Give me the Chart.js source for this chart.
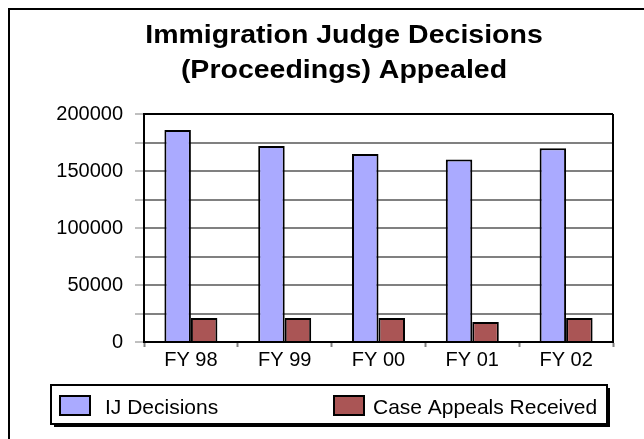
<!DOCTYPE html>
<html>
<head>
<meta charset="utf-8">
<script src="https://cdn.jsdelivr.net/npm/chart.js@4/dist/chart.umd.min.js"></script>
<style>
  html, body { margin: 0; padding: 0; background: #ffffff; }
  #wrap { position: relative; width: 644px; height: 439px; }
  canvas { display: block; }
</style>
</head>
<body>
<div id="wrap"><canvas id="c" width="644" height="439"></canvas></div>
<script>
const categories = ['FY 98', 'FY 99', 'FY 00', 'FY 01', 'FY 02'];
const ijDecisions = [186000, 172000, 165000, 160000, 170000];
const caseAppeals = [21000, 21000, 21000, 17500, 21000];
const yTickLabels = [0, 50000, 100000, 150000, 200000];
const seriesNames = ['IJ Decisions', 'Case Appeals Received'];
const titleLines = ['Immigration Judge Decisions', '(Proceedings) Appealed'];

const BLUE = '#AAAAFF';
const RED = '#AA5555';
const GRID = '#808080';
const FONT = 'Arial, "Liberation Sans", Helvetica, sans-serif';

const framePlugin = {
  id: 'frame',
  beforeDraw(chart) {
    const ctx = chart.ctx;
    ctx.save();
    ctx.fillStyle = '#ffffff';
    ctx.fillRect(0, 0, chart.width, chart.height);
    ctx.strokeStyle = '#000000';
    ctx.lineWidth = 2;
    ctx.beginPath();
    ctx.moveTo(9, chart.height);
    ctx.lineTo(9, 9);
    ctx.lineTo(chart.width, 9);
    ctx.stroke();
    // title (slightly widened like the reference)
    ctx.fillStyle = '#000000';
    ctx.font = 'bold 25px ' + FONT;
    ctx.textAlign = 'center';
    ctx.textBaseline = 'alphabetic';
    ctx.translate(344, 0);
    ctx.scale(1.14, 1);
    ctx.fillText(titleLines[0], 0, 43);
    ctx.fillText(titleLines[1], 0, 78);
    ctx.restore();
  },
  afterDatasetsDraw(chart) {
    const ctx = chart.ctx;
    const a = chart.chartArea;
    ctx.save();
    ctx.strokeStyle = '#000000';
    ctx.lineWidth = 2;
    ctx.beginPath();
    ctx.moveTo(a.right, a.bottom);
    ctx.lineTo(a.right, a.top);
    ctx.stroke();
    ctx.restore();
  },
  afterDraw(chart) {
    const ctx = chart.ctx;
    const bx = 51, by = 385, bw = 556, bh = 39;
    ctx.save();
    ctx.fillStyle = '#000000';
    ctx.fillRect(bx + 3, by + 3, bw, bh);
    ctx.fillStyle = '#ffffff';
    ctx.fillRect(bx, by, bw, bh);
    ctx.strokeStyle = '#000000';
    ctx.lineWidth = 2;
    ctx.strokeRect(bx, by, bw, bh);
    const items = chart.data.datasets.map(d => ({ label: d.label, color: d.backgroundColor }));
    const swatchX = [60, 334];
    const textX = [105, 373];
    ctx.font = '21px ' + FONT;
    ctx.textBaseline = 'alphabetic';
    ctx.textAlign = 'left';
    items.forEach((it, i) => {
      ctx.fillStyle = it.color;
      ctx.fillRect(swatchX[i], 396, 30, 19);
      ctx.strokeStyle = '#000000';
      ctx.lineWidth = 2;
      ctx.strokeRect(swatchX[i], 396, 30, 19);
      ctx.fillStyle = '#000000';
      ctx.fillText(it.label, textX[i], 414);
    });
    ctx.restore();
  }
};

new Chart(document.getElementById('c'), {
  type: 'bar',
  data: {
    labels: categories,
    datasets: [
      { label: seriesNames[0], data: ijDecisions, backgroundColor: BLUE, borderColor: '#000000', borderWidth: 2, borderSkipped: 'bottom' },
      { label: seriesNames[1], data: caseAppeals, backgroundColor: RED, borderColor: '#000000', borderWidth: 2, borderSkipped: 'bottom' }
    ]
  },
  options: {
    responsive: false,
    animation: false,
    devicePixelRatio: 1,
    layout: { padding: { top: 114, left: 30, right: 31, bottom: 0 } },
    datasets: { bar: { categoryPercentage: 0.565, barPercentage: 1.0 } },
    plugins: {
      legend: { display: false },
      tooltip: { enabled: false },
      title: { display: false }
    },
    scales: {
      x: {
        offset: true,
        afterFit(scale) { scale.height = 97; },
        grid: { offset: true, drawOnChartArea: false, drawTicks: true, tickLength: 5, tickColor: GRID, tickWidth: 2 },
        border: { display: true, color: '#000000', width: 2 },
        ticks: { color: '#000000', font: { family: FONT, size: 20 }, padding: 1, maxRotation: 0 }
      },
      y: {
        min: 0,
        max: 200000,
        afterFit(scale) { scale.width = 114; },
        afterBuildTicks(scale) {
          const t = [];
          for (let v = 0; v <= 200000; v += 25000) t.push({ value: v });
          scale.ticks = t;
        },
        grid: {
          color: ctx => (ctx.tick && ctx.tick.value === 200000) ? '#000000' : GRID,
          lineWidth: 2,
          tickLength: 9,
          tickColor: GRID,
          tickWidth: 1
        },
        border: { display: true, color: '#000000', width: 2 },
        ticks: {
          color: '#000000',
          font: { family: FONT, size: 20 },
          padding: 12,
          autoSkip: false,
          callback: v => (yTickLabels.includes(v) ? String(v) : '')
        }
      }
    }
  },
  plugins: [framePlugin]
});
</script>
</body>
</html>
